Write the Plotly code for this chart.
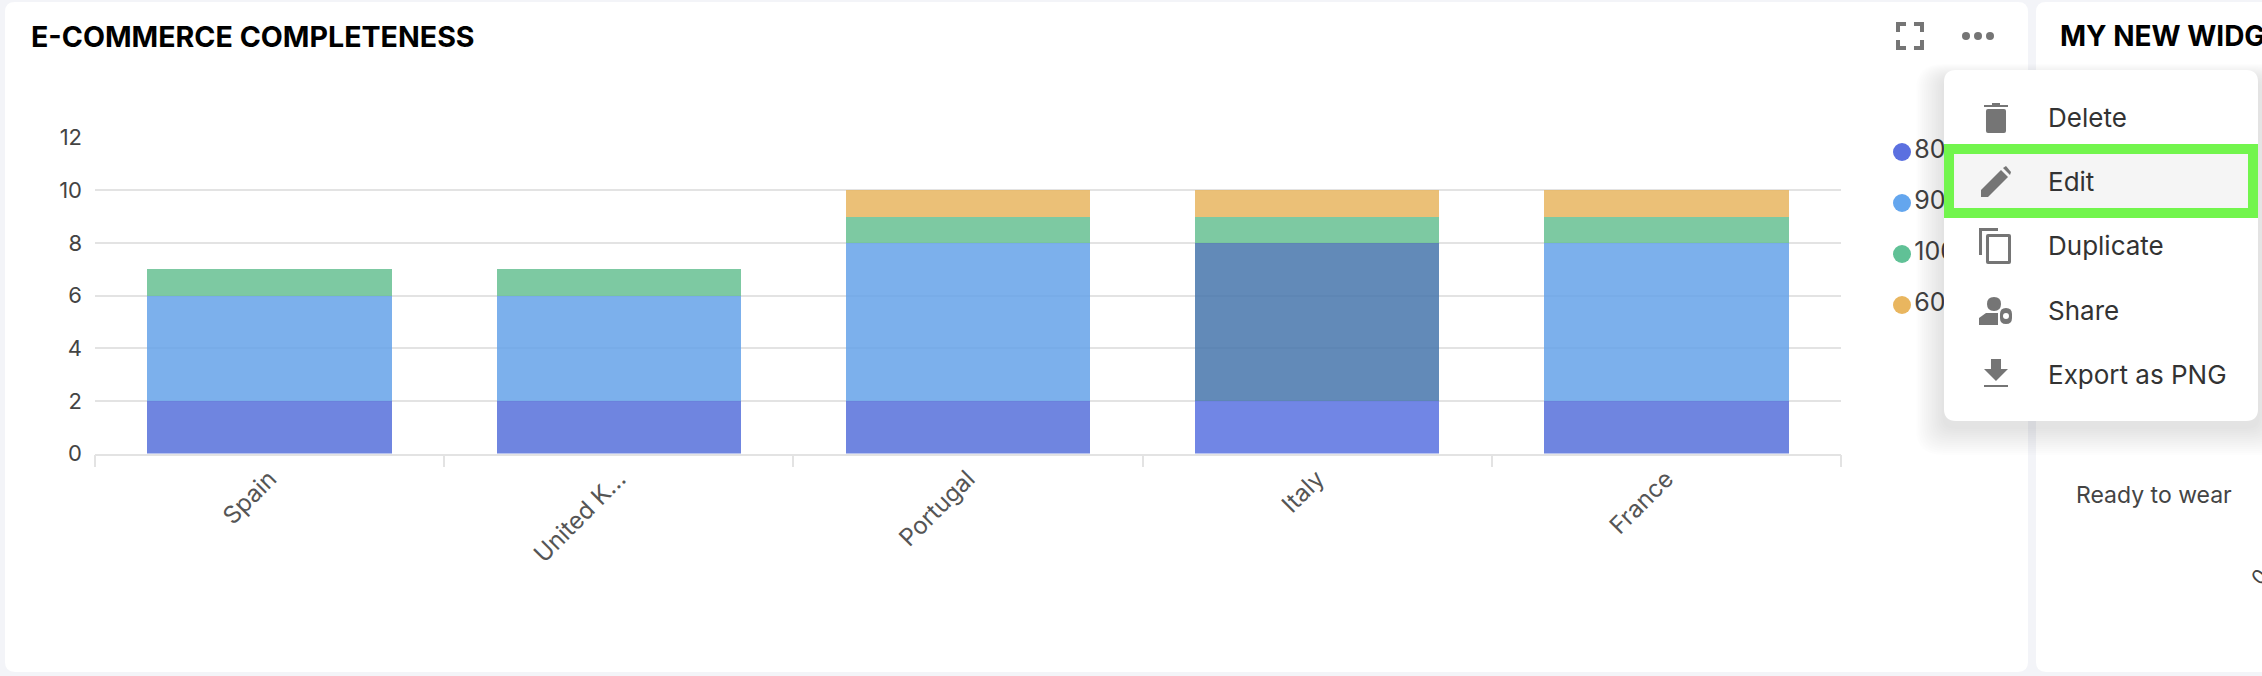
import plotly.graph_objects as go

W, H = 2262, 676
FONT = "Inter"

countries = ["Spain", "United K...", "Portugal", "Italy", "France"]
series_names = ["80", "90", "100", "60"]
values_80 = [2, 2, 2, 2, 2]
values_90 = [4, 4, 6, 6, 6]
values_100 = [1, 1, 1, 1, 1]
values_60 = [0, 0, 1, 1, 1]

menu_labels = ["Delete", "Edit", "Duplicate", "Share", "Export as PNG"]


def px(x):
    return x / W


def py(y):
    return 1 - y / H


def path(cmds):
    # cmds are pixel coordinates, shapes want paper fractions
    out = []
    for c in cmds:
        nums = c[1:]
        pts = []
        for i in range(0, len(nums), 2):
            pts.append(f"{px(nums[i]):.5f},{py(nums[i + 1]):.5f}")
        out.append(c[0] + " ".join(pts))
    return " ".join(out) + " Z"


def rrect(x0, y0, x1, y1, r):
    return path([
        ("M", x0 + r, y0), ("L", x1 - r, y0), ("Q", x1, y0, x1, y0 + r),
        ("L", x1, y1 - r), ("Q", x1, y1, x1 - r, y1), ("L", x0 + r, y1),
        ("Q", x0, y1, x0, y1 - r), ("L", x0, y0 + r), ("Q", x0, y0, x0 + r, y0),
    ])


def poly(points):
    return path([("M",) + tuple(points[0])] + [("L",) + tuple(p) for p in points[1:]])


shapes = []


def add(p, color, layer="above", opacity=1.0, line=None, lw=0):
    shapes.append(dict(type="path", path=p, xref="paper", yref="paper", layer=layer,
                       fillcolor=color, opacity=opacity,
                       line=dict(color=line or color, width=lw)))


# cards
add(rrect(5, 2, 2028, 672, 10), "#ffffff", layer="below")
add(rrect(2036, 2, 2290, 672, 10), "#ffffff", layer="below")

# menu shadow and body
for i in range(14, 0, -1):
    add(rrect(1944 - i * 2, 70 - i + 8, 2258 + i * 2, 421 + i * 2 + 6, 12 + i), "#000000", opacity=0.009)
add(rrect(1944, 70, 2258, 421, 12), "#ffffff")

# highlighted Edit row
add(poly([(1944, 144), (2258, 144), (2258, 218), (1944, 218)]), "#72f54d")
add(poly([(1954, 154), (2248, 154), (2248, 208), (1954, 208)]), "#f5f5f5")

ICON = "#757575"
# fullscreen corners
for cx, cy, sx, sy in [(1896, 22, 1, 1), (1924, 22, -1, 1), (1896, 50, 1, -1), (1924, 50, -1, -1)]:
    add(poly([(cx, cy), (cx + 10 * sx, cy), (cx + 10 * sx, cy + 4 * sy), (cx + 4 * sx, cy + 4 * sy),
              (cx + 4 * sx, cy + 10 * sy), (cx, cy + 10 * sy)]), ICON)
# three dots
for cx in [1966, 1978, 1990]:
    add(rrect(cx - 4, 32, cx + 4, 40, 4), ICON)
# trash
add(poly([(1984, 105), (2008, 105), (2008, 107), (1984, 107)]), ICON)
add(poly([(1992, 103), (2000, 103), (2000, 105), (1992, 105)]), ICON)
add(rrect(1986, 109, 2006, 133, 2), ICON)
# pencil
add(poly([(1981, 197), (1981, 190), (2001, 170), (2008, 177), (1988, 197)]), ICON)
add(poly([(2003, 168), (2006, 166), (2011, 172), (2010, 175)]), ICON)
# duplicate
add(poly([(1979, 228), (1998, 228), (1998, 231), (1982, 231), (1982, 255), (1979, 255)]), ICON)
add(rrect(1986, 234, 2011, 264, 2), ICON)
add(poly([(1989, 237), (2008, 237), (2008, 261), (1989, 261)]), "#ffffff")
# share user and gear
add(rrect(1987, 297, 2001, 311, 7), ICON)
add(poly([(1979, 325), (1979, 318), (1986, 313), (1998, 313), (1998, 325)]), ICON)
add(rrect(2000, 308, 2012, 324, 6), ICON)
add(rrect(2003, 313, 2009, 319, 3), "#ffffff")
# download
add(poly([(1991, 359), (2001, 359), (2001, 369), (2008, 369), (1996, 381), (1984, 369), (1991, 369)]), ICON)
add(poly([(1984, 385), (2008, 385), (2008, 387), (1984, 387)]), ICON)

fig = go.Figure()

bar_series = [
    (values_80, ["#5670db", "#5670db", "#5670db", "#5871e1", "#5670db"]),
    (values_90, ["#65a2e9", "#65a2e9", "#65a2e9", "#4675ab", "#65a2e9"]),
    (values_100, ["#66c092"] * 5),
    (values_60, ["#e8b55f"] * 5),
]
for name, (vals, colors) in zip(series_names, bar_series):
    fig.add_trace(go.Bar(x=countries, y=vals, name=name, width=0.7,
                         marker=dict(color=colors, opacity=0.85, line=dict(width=0))))

# legend sits in a pixel-scaled subplot so the open menu can cover it
legend_colors = ["#5b70e0", "#64a6ee", "#60c196", "#e9b65f"]
for i, name in enumerate(series_names):
    fig.add_trace(go.Scatter(x=[1902], y=[152 + 51 * i], mode="markers+text", text=[name],
                             textposition="middle right", xaxis="x2", yaxis="y2",
                             marker=dict(color=legend_colors[i], size=18),
                             textfont=dict(family=FONT, size=25, color="#444444")))
# widget label hidden behind the menu, only the descender shows
fig.add_trace(go.Scatter(x=[2137], y=[412], mode="text", text=["Beauty"], xaxis="x2", yaxis="y2",
                         textfont=dict(family=FONT, size=19, color="#444444")))

annotations = [
    dict(text="<b>E-COMMERCE COMPLETENESS</b>", x=px(29), y=py(36), xanchor="left",
         font=dict(size=28.6, color="#000000")),
    dict(text="<b>MY NEW WIDGET</b>", x=px(2058), y=py(36), xanchor="left",
         font=dict(size=28, color="#000000")),
    dict(text="Ready to wear", x=px(2154), y=py(495), xanchor="center",
         font=dict(size=23, color="#444444")),
    dict(text="0", x=px(2259), y=py(577), xanchor="center", textangle=-45,
         font=dict(size=20, color="#444444")),
]
for label, y in zip(menu_labels, [117, 182, 246, 310, 374]):
    annotations.append(dict(text=label, x=px(2046), y=py(y), xanchor="left",
                            font=dict(size=26, color="#333333")))
for a in annotations:
    a.update(xref="paper", yref="paper", yanchor="middle", showarrow=False)

fig.update_layout(
    width=W, height=H, autosize=False,
    margin=dict(l=0, r=0, t=0, b=0),
    barmode="stack", bargap=0.3, showlegend=False,
    paper_bgcolor="#f3f4f8", plot_bgcolor="rgba(0,0,0,0)",
    font=dict(family=FONT, color="#444444"),
    shapes=shapes, annotations=annotations,
    xaxis=dict(domain=[px(95), px(1841)], type="category", tickson="boundaries", automargin=False,
               categoryorder="array", categoryarray=countries,
               ticks="outside", ticklen=12, tickcolor="#e3e3e3", tickwidth=1.5,
               showline=True, linecolor="#e3e3e3", linewidth=1.5, showgrid=False,
               tickangle=-45, tickfont=dict(size=24, color="#555555")),
    yaxis=dict(domain=[py(453.5), py(137.5)], range=[0, 12], dtick=2, automargin=False,
               showgrid=True, gridcolor="#e3e3e3", gridwidth=1.5, zeroline=False,
               ticks="", ticklabelstandoff=12, tickfont=dict(size=22, color="#444444")),
    xaxis2=dict(domain=[0, 1], range=[0, W], visible=False, anchor="y2", automargin=False),
    yaxis2=dict(domain=[0, 1], range=[H, 0], visible=False, anchor="x2", automargin=False),
)

fig.write_html("out.html", config={"displayModeBar": False},
               post_script="document.body.style.margin='0';document.body.style.overflow='hidden';")
